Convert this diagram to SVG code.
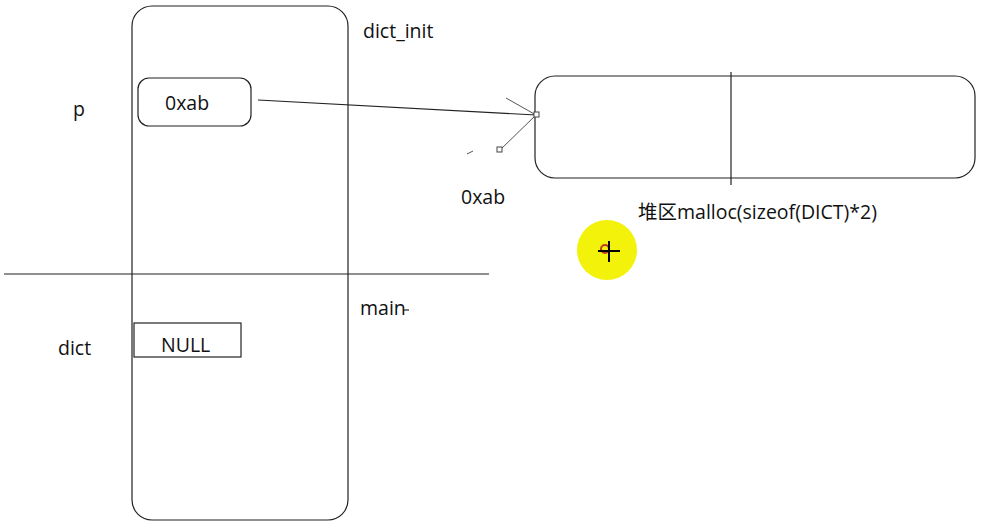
<svg xmlns="http://www.w3.org/2000/svg" width="984" height="521" viewBox="0 0 984 521">
<style>
text{font-family:"Open Sans","Liberation Sans","Noto Sans CJK SC",sans-serif;font-size:19.5px;fill:#111}
.box{fill:none;stroke:#222;stroke-width:1.2}
.ln{stroke:#222;stroke-width:1.2;fill:none}
.thin{stroke:#555;stroke-width:1;fill:none}
.h{fill:#fff;stroke:#444;stroke-width:1}
</style>
<rect width="984" height="521" fill="#fff"/>
<g id="stack">
<rect class="box" x="132" y="6" width="216" height="514" rx="20"/>
</g>
<g id="divider"><line class="ln" x1="4" y1="274" x2="489" y2="274"/></g>
<g id="labels">
<text x="363" y="38">dict_init</text>
<text x="73" y="116">p</text>
<text x="360" y="315">main</text>
<line class="ln" x1="403" y1="310" x2="409" y2="310"/>
<text x="58" y="355">dict</text>
<text x="461" y="204">0xab</text>
<text x="638" y="219">堆区malloc(sizeof(DICT)*2)</text>
</g>
<g id="p-node">
<rect class="box" x="138" y="78" width="113" height="48" rx="11"/>
<text x="165" y="110">0xab</text>
</g>
<g id="dict-node">
<rect class="box" x="134" y="323" width="107" height="34"/>
<text x="161" y="352">NULL</text>
</g>
<g id="heap-node">
<rect class="box" x="535" y="76" width="440" height="102" rx="20"/>
<line class="ln" x1="731" y1="72" x2="731" y2="185"/>
</g>
<g id="connectors">
<line class="ln" x1="258" y1="100" x2="536" y2="115"/>
<line class="thin" x1="536" y1="115" x2="506" y2="98"/>
<line class="thin" x1="536" y1="115" x2="500" y2="150"/>
<line class="thin" x1="467" y1="154" x2="473" y2="151"/>
<rect class="h" x="534" y="112" width="5" height="5"/>
<rect class="h" x="497" y="147" width="5" height="5"/>
</g>
<g id="cursor">
<circle cx="607" cy="250" r="30" fill="#f2f20a"/>
<circle cx="605" cy="249" r="4" fill="none" stroke="#c0392b" stroke-width="2"/>
<line x1="609" y1="241" x2="609" y2="262" stroke="#000" stroke-width="2"/>
<line x1="598" y1="251" x2="620" y2="251" stroke="#000" stroke-width="2"/>
</g>
</svg>
